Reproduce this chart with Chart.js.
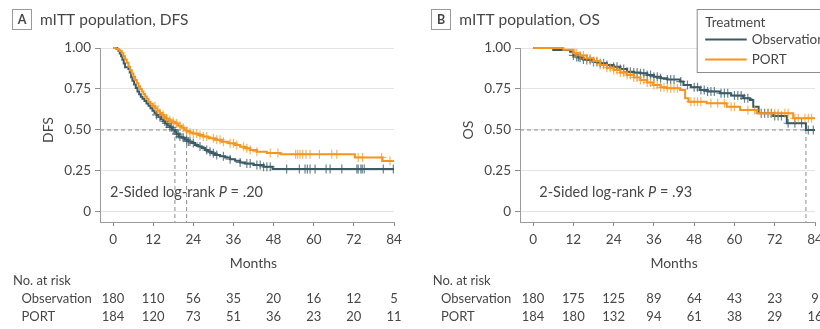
<!DOCTYPE html>
<html><head><meta charset="utf-8">
<script src="https://cdn.jsdelivr.net/npm/chart.js@4/dist/chart.umd.min.js"></script>
<style>
html,body{margin:0;padding:0;background:#fff;overflow:hidden;}
#wrap{position:relative;width:820px;height:329px;overflow:hidden;background:#fff;}
#pa{position:absolute;left:0;top:0;width:410px;height:329px;}
#pb{position:absolute;left:410px;top:0;width:430px;height:329px;}
</style></head><body>
<div id="wrap"><div id="pa"><canvas id="ca"></canvas></div><div id="pb"><canvas id="cb"></canvas></div></div>
<script>
// ---------- data ----------
const monthTicks = [0, 12, 24, 36, 48, 60, 72, 84];
const survTicks = [0, 0.25, 0.5, 0.75, 1];
const survTickLabels = ['0', '0.25', '0.50', '0.75', '1.00'];
const groupNames = ['Observation', 'PORT'];

// DFS – Observation (time in months, survival after step)
const dfsObsTime = [0, 1.2, 1.6, 2.0, 2.4, 2.8, 3.2, 3.6, 4.6, 5.0, 5.4, 5.8, 6.3, 6.8, 7.3, 7.8, 8.3, 8.8, 9.4, 10.0, 10.6, 11.2, 11.8, 12.4, 13.0, 13.6, 14.3, 15.0, 15.6, 16.3, 17.0, 17.6, 18.5, 19.0, 19.6, 20.5, 21.5, 22.5, 23.5, 24.5, 25.5, 26.5, 27.5, 28.5, 29.5, 30.5, 32.0, 33.5, 35.0, 36.5, 38.0, 39.5, 42.0, 45.0, 47.7, 84];
const dfsObsSurv = [1, 0.994, 0.983, 0.967, 0.950, 0.928, 0.906, 0.883, 0.872, 0.850, 0.822, 0.800, 0.778, 0.756, 0.735, 0.718, 0.703, 0.690, 0.677, 0.662, 0.648, 0.633, 0.618, 0.604, 0.592, 0.579, 0.566, 0.552, 0.540, 0.528, 0.516, 0.503, 0.490, 0.475, 0.460, 0.452, 0.440, 0.430, 0.420, 0.409, 0.400, 0.390, 0.378, 0.368, 0.358, 0.348, 0.340, 0.332, 0.322, 0.312, 0.302, 0.295, 0.287, 0.276, 0.262, 0.262];
const dfsObsCensor = [13, 14, 15.5, 16, 17, 17.5, 18, 19, 19.5, 20, 21, 22, 22.5, 23, 24, 26, 28, 29, 30, 31, 33, 35, 38, 40, 41, 43, 44, 45, 46, 47, 51.9, 55.7, 57.4, 58.1, 58.9, 60.4, 63.7, 64.9, 68.4, 72.9, 73.3, 74.1, 74.5, 75.1, 80.8, 83.8];

// DFS – PORT
const dfsPortTime = [0, 0.8, 1.5, 2.0, 2.6, 3.1, 3.6, 4.1, 4.6, 5.1, 5.6, 6.1, 6.6, 7.1, 7.6, 8.1, 8.6, 9.1, 9.6, 10.1, 10.6, 11.2, 11.9, 12.6, 13.3, 14.0, 14.6, 15.3, 16.0, 16.6, 17.5, 18.5, 19.5, 20.5, 21.3, 22.0, 23.0, 24.0, 25.5, 27.0, 28.5, 30.5, 32.5, 34.5, 36.5, 38.0, 39.5, 41.0, 43.0, 46.0, 50.0, 72.3, 80.6, 84];
const dfsPortSurv = [1, 0.995, 0.990, 0.982, 0.968, 0.950, 0.930, 0.910, 0.886, 0.865, 0.845, 0.825, 0.805, 0.785, 0.767, 0.750, 0.734, 0.720, 0.705, 0.690, 0.673, 0.660, 0.645, 0.632, 0.618, 0.604, 0.591, 0.580, 0.570, 0.560, 0.550, 0.540, 0.526, 0.514, 0.503, 0.494, 0.485, 0.478, 0.470, 0.460, 0.449, 0.440, 0.429, 0.419, 0.409, 0.398, 0.388, 0.378, 0.368, 0.360, 0.352, 0.333, 0.311, 0.311];
const dfsPortCensor = [12.5, 14, 15, 16, 17, 18, 19, 20, 21, 22, 23, 24, 25, 26, 27, 28, 30, 31, 32, 33, 35, 36, 37, 39, 40, 41, 43, 47, 49.3, 54.6, 55.2, 55.9, 56.7, 57.7, 58.9, 61.7, 65.4, 66.9, 73.3, 74.6, 80.3, 82.8];

// OS – Observation
const osObsTime = [0, 6, 11, 12, 13, 14, 15, 16, 18, 20, 22, 24, 26, 28, 30, 32, 34, 36, 38, 40, 43.8, 44.8, 47, 49.7, 52, 55.7, 59, 62.6, 64.6, 65.6, 67.2, 71.6, 75.6, 81.3, 84];
const osObsSurv = [1, 0.988, 0.977, 0.955, 0.945, 0.940, 0.930, 0.927, 0.915, 0.907, 0.897, 0.886, 0.872, 0.855, 0.850, 0.846, 0.835, 0.825, 0.815, 0.808, 0.795, 0.774, 0.760, 0.744, 0.735, 0.724, 0.710, 0.693, 0.683, 0.642, 0.602, 0.585, 0.541, 0.500, 0.500];
const osObsCensor = [12, 13, 13.5, 14, 15, 16, 17, 18, 19, 20, 21, 22, 24, 25, 26, 27, 28, 29, 30, 31, 32, 33, 34, 35, 36, 37, 38, 40, 41, 42, 44, 46, 48, 49, 50, 51, 52, 53, 54, 56, 57, 58, 60, 61, 62, 63, 64, 68, 69, 70, 71, 72, 73, 74, 76, 78, 80, 82, 83.5];

// OS – PORT
const osPortTime = [0, 9, 12, 14, 16, 18, 20, 22, 24, 26, 28, 30, 32, 34, 35.8, 38, 39.8, 43.8, 45.3, 46.3, 51.7, 57.7, 61.7, 66.6, 77.5, 84];
const osPortSurv = [1, 0.990, 0.968, 0.955, 0.937, 0.920, 0.896, 0.880, 0.866, 0.850, 0.835, 0.820, 0.805, 0.790, 0.774, 0.760, 0.754, 0.744, 0.693, 0.673, 0.663, 0.642, 0.622, 0.602, 0.571, 0.571];
const osPortCensor = [12.5, 13, 14, 15, 16, 17, 18, 19, 20, 21, 22, 23, 24, 25, 26, 27, 28, 29, 30, 31, 32, 33, 34, 35, 36, 37, 38, 39, 40, 41, 42, 43, 47, 48, 49, 50, 53, 55, 57, 59, 60, 64, 66, 68, 70, 71, 72, 73, 75, 76, 78, 79, 81, 82, 83];

// medians (months)
const dfsMedians = [18.5, 22.0];
const osMedians = [81.3];

// number at risk
const dfsAtRiskObs = [180, 110, 56, 35, 20, 16, 12, 5];
const dfsAtRiskPort = [184, 120, 73, 51, 36, 23, 20, 11];
const osAtRiskObs = [180, 175, 125, 89, 64, 43, 23, 9];
const osAtRiskPort = [184, 180, 132, 94, 61, 38, 29, 16];

const dfsPValue = '.20';
const osPValue = '.93';

// ---------- style ----------
const FONT = 'Lato, "Open Sans", sans-serif';
const TXT = '#474747';
const OBS_COLOR = '#3a5a66';
const PORT_COLOR = '#f7941d';
const OBS_CENS = 'rgba(58,90,102,0.75)';
const PORT_CENS = 'rgba(247,148,29,0.7)';
const X_MIN = -3.9, Y_MIN = -0.061;

function stepPoints(t, s) { return t.map((x, i) => ({ x: x, y: s[i] })); }
function survAt(t, s, time) { let v = s[0]; for (let i = 0; i < t.length; i++) { if (t[i] <= time) v = s[i]; } return v; }
function censorPoints(t, s, c) { return c.map(x => ({ x: x, y: survAt(t, s, x) })); }

function medianSets(meds) {
  const sets = [];
  const maxMed = Math.max.apply(null, meds);
  sets.push({ type: 'line', data: [{ x: X_MIN, y: 0.5 }, { x: maxMed, y: 0.5 }] });
  meds.forEach(m => sets.push({ type: 'line', data: [{ x: m, y: 0.5 }, { x: m, y: Y_MIN }] }));
  return sets.map(d => Object.assign(d, { borderColor: '#8c8c8c', borderWidth: 1, borderDash: [4, 3], pointRadius: 0, order: 10, clip: false }));
}

function buildDatasets(obsT, obsS, obsC, portT, portS, portC, meds) {
  return [
    { type: 'line', label: groupNames[1], data: stepPoints(portT, portS), stepped: 'before', borderColor: PORT_COLOR, borderWidth: 2, pointRadius: 0, order: 0, clip: false },
    { type: 'line', label: groupNames[1] + ' censored', data: censorPoints(portT, portS, portC), showLine: false, pointStyle: 'cross', pointRadius: 4.5, borderColor: PORT_CENS, pointBorderWidth: 1.2, order: 1 },
    { type: 'line', label: groupNames[0], data: stepPoints(obsT, obsS), stepped: 'before', borderColor: OBS_COLOR, borderWidth: 2, pointRadius: 0, order: 2, clip: false },
    { type: 'line', label: groupNames[0] + ' censored', data: censorPoints(obsT, obsS, obsC), showLine: false, pointStyle: 'cross', pointRadius: 4.5, borderColor: OBS_CENS, pointBorderWidth: 1.2, order: 3 }
  ].concat(medianSets(meds));
}

function makePlugin(p) {
  return {
    id: 'annot' + p.letter,
    afterDraw(chart) {
      const ctx = chart.ctx, xs = chart.scales.x, ys = chart.scales.y;
      ctx.save();
      ctx.fillStyle = TXT;
      ctx.textBaseline = 'middle';
      // letter box
      ctx.strokeStyle = '#9a9a9a'; ctx.lineWidth = 1;
      ctx.strokeRect(p.boxX + 0.5, 9.5, 19, 20);
      ctx.font = 'bold 12.5px ' + FONT; ctx.textAlign = 'center';
      ctx.fillText(p.letter, p.boxX + 10, 20);
      ctx.font = '15.5px ' + FONT; ctx.textAlign = 'left';
      ctx.fillText(p.title, p.titleX, 19.5);
      // axis titles
      ctx.font = '14px ' + FONT; ctx.textAlign = 'center';
      const midX = (xs.getPixelForValue(monthTicks[0]) + xs.getPixelForValue(monthTicks[monthTicks.length - 1])) / 2;
      ctx.fillText('Months', midX, 263);
      ctx.save();
      ctx.translate(p.yTitleX, ys.getPixelForValue(0.5));
      ctx.rotate(-Math.PI / 2);
      ctx.fillText(p.yTitle, 0, 0);
      ctx.restore();
      // p value
      ctx.textAlign = 'left';
      let x = p.pX;
      const seg = [['2-Sided log-rank ', '14.5px '], ['P', 'italic 14.5px '], [' = ' + p.pValue, '14.5px ']];
      seg.forEach(s => { ctx.font = s[1] + FONT; ctx.fillText(s[0], x, 192); x += ctx.measureText(s[0]).width; });
      // at risk table
      ctx.font = '13px ' + FONT;
      ctx.fillText('No. at risk', p.riskX, 281);
      ctx.fillText(groupNames[0], p.rowX, 299);
      ctx.fillText(groupNames[1], p.rowX, 317);
      ctx.textAlign = 'center';
      monthTicks.forEach((m, i) => {
        const px = xs.getPixelForValue(m);
        ctx.fillText(String(p.riskObs[i]), px, 299);
        ctx.fillText(String(p.riskPort[i]), px, 317);
      });
      // legend
      if (p.legend) {
        const lx = p.legend;
        ctx.fillStyle = '#fff';
        ctx.fillRect(lx + 0.5, 9.5, 200, 63);
        ctx.strokeStyle = '#8c8c8c';
        ctx.strokeRect(lx + 0.5, 9.5, 200, 63);
        ctx.fillStyle = TXT; ctx.textAlign = 'left'; ctx.font = '13.5px ' + FONT;
        ctx.fillText('Treatment', lx + 8.5, 22.5);
        ctx.lineWidth = 2;
        ctx.strokeStyle = OBS_COLOR; ctx.beginPath(); ctx.moveTo(lx + 8.5, 39.5); ctx.lineTo(lx + 50, 39.5); ctx.stroke();
        ctx.strokeStyle = PORT_COLOR; ctx.beginPath(); ctx.moveTo(lx + 8.5, 59.5); ctx.lineTo(lx + 50, 59.5); ctx.stroke();
        ctx.fillText(groupNames[0], lx + 55, 39.5);
        ctx.fillText(groupNames[1], lx + 55, 59.5);
      }
      ctx.restore();
    }
  };
}

function makeChart(canvasId, datasets, yAxisWidth, rightPad, plugin) {
  return new Chart(document.getElementById(canvasId), {
    type: 'line',
    data: { datasets: datasets },
    options: {
      responsive: true, maintainAspectRatio: false, animation: false, devicePixelRatio: 1,
      events: [],
      layout: { padding: { left: 0, top: 48, right: rightPad, bottom: 0 } },
      plugins: { legend: { display: false }, tooltip: { enabled: false }, title: { display: false } },
      scales: {
        x: {
          type: 'linear', min: X_MIN, max: 84, bounds: 'data',
          afterBuildTicks: s => { s.ticks = monthTicks.map(v => ({ value: v })); },
          afterFit: s => { s.height = 107; s.paddingLeft = 0; s.paddingRight = 0; },
          ticks: { font: { family: FONT, size: 13.5 }, color: TXT, padding: 6, maxRotation: 0, autoSkip: false },
          grid: { drawOnChartArea: false, drawTicks: true, tickLength: 4, tickColor: '#8c8c8c', tickWidth: 1 },
          border: { color: '#9a9a9a', width: 1 }
        },
        y: {
          type: 'linear', min: Y_MIN, max: 1, bounds: 'data',
          afterBuildTicks: s => { s.ticks = survTicks.map(v => ({ value: v })); },
          afterFit: s => { s.width = yAxisWidth; },
          ticks: { font: { family: FONT, size: 13.5 }, color: TXT, padding: 4, callback: v => survTickLabels[survTicks.indexOf(v)] },
          grid: { color: '#e4e4e4', lineWidth: 1, drawTicks: true, tickLength: 5, tickColor: '#8c8c8c' },
          border: { color: '#9a9a9a', width: 1 }
        }
      }
    },
    plugins: [plugin]
  });
}

makeChart('ca',
  buildDatasets(dfsObsTime, dfsObsSurv, dfsObsCensor, dfsPortTime, dfsPortSurv, dfsPortCensor, dfsMedians),
  100, 16,
  makePlugin({ letter: 'A', title: 'mITT population, DFS', yTitle: 'DFS', boxX: 12, titleX: 40, yTitleX: 48, pX: 110, pValue: dfsPValue, riskX: 13, rowX: 21.5, riskObs: dfsAtRiskObs, riskPort: dfsAtRiskPort, legend: null }));

makeChart('cb',
  buildDatasets(osObsTime, osObsSurv, osObsCensor, osPortTime, osPortSurv, osPortCensor, osMedians),
  110, 25,
  makePlugin({ letter: 'B', title: 'mITT population, OS', yTitle: 'OS', boxX: 21, titleX: 49.3, yTitleX: 58, pX: 129.3, pValue: osPValue, riskX: 22.7, rowX: 31, riskObs: osAtRiskObs, riskPort: osAtRiskPort, legend: 286.7 }));
</script>
</body></html>
